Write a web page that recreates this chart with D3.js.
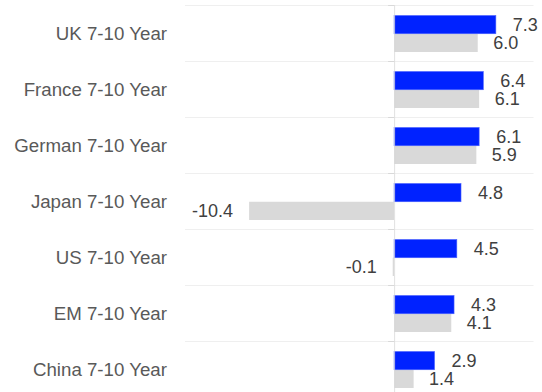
<!DOCTYPE html>
<html><head><meta charset="utf-8">
<script src="https://cdn.jsdelivr.net/npm/d3@7"></script>
<style>html,body{margin:0;padding:0;background:#fff;overflow:hidden}</style>
</head><body>
<svg id="c" width="542" height="392"></svg>
<script>
const categories = ["UK 7-10 Year","France 7-10 Year","German 7-10 Year","Japan 7-10 Year","US 7-10 Year","EM 7-10 Year","China 7-10 Year"];
const seriesA = [7.3, 6.4, 6.1, 4.8, 4.5, 4.3, 2.9];
const seriesB = [6.0, 6.1, 5.9, -10.4, -0.1, 4.1, 1.4];
const xDomain = [-15, 10];

const svg = d3.select("#c");
const font = "'Liberation Sans', Arial, sans-serif";
const x = d3.scaleLinear().domain(xDomain).range([185, 533.5]);
const y = d3.scaleBand().domain(categories).range([5, 5 + 56 * categories.length]).padding(0);
const sub = d3.scaleBand().domain(["a","b"]).range([10.5, 47]).padding(0);
const fmt = d3.formatLocale({decimal: ".", thousands: ",", grouping: [3], currency: ["", ""], minus: "-"}).format(".1f");

// separators
svg.append("g").selectAll("line").data(categories).join("line")
  .attr("x1", x.range()[0]).attr("x2", x.range()[1])
  .attr("y1", d => y(d) + 0.5).attr("y2", d => y(d) + 0.5)
  .attr("stroke", "#efefef").attr("stroke-width", 1);

const data = categories.map((c, i) => ({c, a: seriesA[i], b: seriesB[i]}));
const rows = svg.append("g").selectAll("g").data(data).join("g")
  .attr("transform", d => `translate(0,${y(d.c)})`);

rows.append("rect")
  .attr("x", d => x(Math.min(0, d.b))).attr("width", d => Math.abs(x(d.b) - x(0)))
  .attr("y", sub("b")).attr("height", sub.bandwidth())
  .attr("fill", "#d9d9d9");
rows.append("rect")
  .attr("x", d => x(Math.min(0, d.a))).attr("width", d => Math.abs(x(d.a) - x(0)))
  .attr("y", sub("a")).attr("height", sub.bandwidth())
  .attr("fill", "#0022ff").attr("stroke", "#4a62ff").attr("stroke-width", 0.6);

function lab(sel, key, off) {
  sel.append("text")
    .attr("x", d => d[key] >= 0 ? x(d[key]) + off : x(d[key]) - 16)
    .attr("y", sub(key) + sub.bandwidth() / 2)
    .attr("dy", "0.35em")
    .attr("text-anchor", d => d[key] >= 0 ? "start" : "end")
    .attr("font-family", font).attr("font-size", 18).attr("fill", "#404040")
    .text(d => fmt(d[key]));
}
lab(rows, "a", 17);
lab(rows, "b", 15.5);

// zero axis
const ax = svg.append("g");
ax.append("line").attr("x1", x(0) + 0.5).attr("x2", x(0) + 0.5)
  .attr("y1", y.range()[0]).attr("y2", 392)
  .attr("stroke", "#d9d9d9").attr("stroke-opacity", 0.8);
ax.selectAll("line.t").data(categories).join("line").attr("class", "t")
  .attr("x1", x(0) - 6).attr("x2", x(0))
  .attr("y1", d => y(d) + 0.5).attr("y2", d => y(d) + 0.5)
  .attr("stroke", "#d9d9d9");

// category labels
svg.append("g").selectAll("text").data(categories).join("text")
  .attr("x", 167).attr("y", d => y(d) + y.bandwidth() / 2 + 0.5)
  .attr("dy", "0.35em").attr("text-anchor", "end")
  .attr("font-family", font).attr("font-size", 18.7).attr("fill", "#595959")
  .text(d => d);
</script>
</body></html>
